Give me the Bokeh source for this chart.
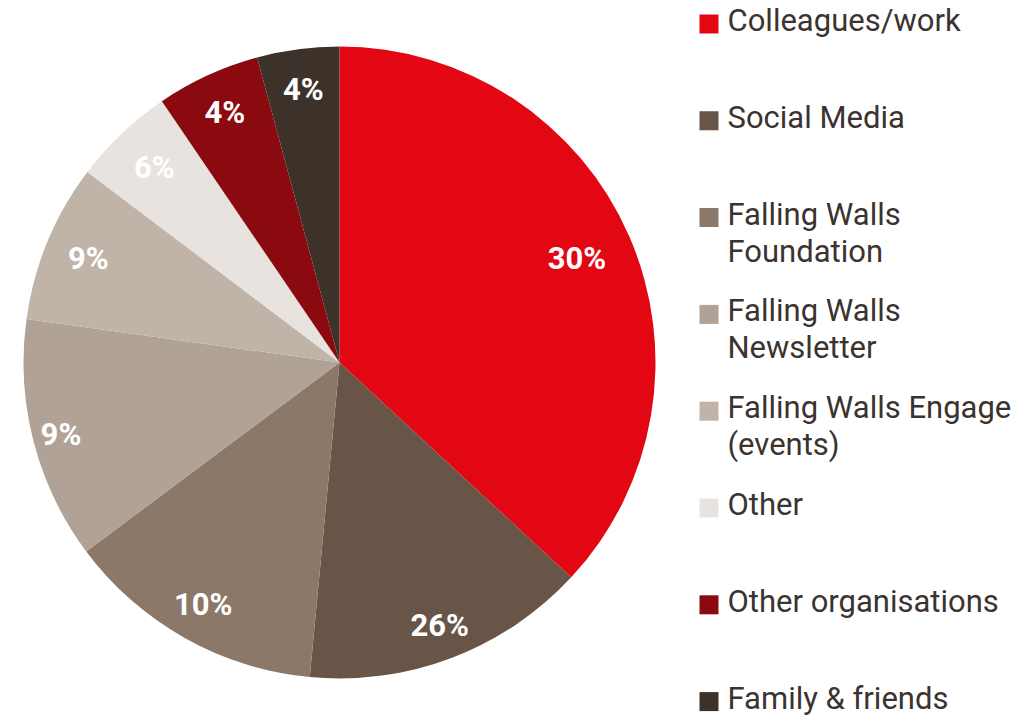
import math
from bokeh.plotting import figure
from bokeh.models import Range1d, ColumnDataSource
from bokeh.core.properties import value
from bokeh.embed import file_html
from bokeh.resources import INLINE

# ---- data ----
categories = ["Colleagues/work", "Social Media", "Falling Walls\nFoundation",
              "Falling Walls\nNewsletter", "Falling Walls Engage\n(events)",
              "Other", "Other organisations", "Family & friends"]
shares = [36.9, 14.6, 13.3, 12.4, 8.1, 5.2, 5.3, 4.2]          # visual slice sizes
pct_labels = ["30%", "26%", "10%", "9%", "9%", "6%", "4%", "4%"]  # printed labels
colors = ["#E30613", "#685547", "#8B7868", "#B0A296", "#C0B3A8",
          "#E8E3DF", "#8A0A0F", "#3D3229"]

# ---- layout / style ----
W, H = 1032, 716
IMG_H = 716
CX, CY_IMG, R = 339, 362, 316
label_r = [0.82, 0.89, 0.88, 0.91, 0.86, 0.85, 0.87, 0.87]
FONT = "Roboto"
TEXT_COLOR = "#3B3330"

def fy(img_y):
    return IMG_H - img_y

p = figure(width=W, height=H, output_backend="svg", toolbar_location=None,
           x_range=Range1d(0, W), y_range=Range1d(IMG_H - H, IMG_H),
           min_border=0, outline_line_color=None)
p.axis.visible = False
p.grid.visible = False
p.background_fill_color = "white"
p.border_fill_color = "white"

total = sum(shares)
cum = 0.0
starts, ends, lx, ly = [], [], [], []
for i, s in enumerate(shares):
    a0 = math.pi / 2 - 2 * math.pi * cum / total
    cum += s
    a1 = math.pi / 2 - 2 * math.pi * cum / total
    starts.append(a1)
    ends.append(a0)
    mid = (a0 + a1) / 2
    lx.append(CX + R * label_r[i] * math.cos(mid))
    ly.append(fy(CY_IMG) + R * label_r[i] * math.sin(mid))

src = ColumnDataSource(dict(start=starts, end=ends, color=colors))
p.wedge(x=CX, y=fy(CY_IMG), radius=R, start_angle="start", end_angle="end",
        fill_color="color", line_color=None, source=src)

p.text(x=lx, y=ly, text=pct_labels, text_color="white",
       text_font=value(FONT), text_font_style="bold", text_font_size="31px",
       text_align="center", text_baseline="middle")

# legend
SQ_X, SQ = 699, 19
TX = 727
first_center, step, line_gap = 23.5, 96.8, 37
sq_x, sq_y, t_x, t_y, t_txt = [], [], [], [], []
for i, name in enumerate(categories):
    c = first_center + i * step
    sq_x.append(SQ_X + SQ / 2)
    sq_y.append(fy(c))
    base = c - 3.5
    for j, line in enumerate(name.split("\n")):
        t_x.append(TX)
        t_y.append(fy(base + j * line_gap))
        t_txt.append(line)

p.rect(x=sq_x, y=sq_y, width=SQ, height=SQ, fill_color=colors, line_color=None)
p.text(x=t_x, y=t_y, text=t_txt, text_color=TEXT_COLOR, text_font=value(FONT),
       text_font_size="31px", text_align="left", text_baseline="alphabetic")

open("out.html", "w").write(file_html(p, INLINE))
